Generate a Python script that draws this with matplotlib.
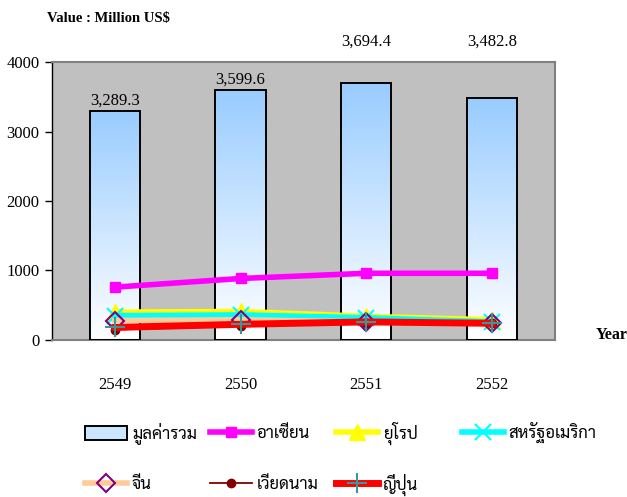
import numpy as np
import matplotlib
matplotlib.use("Agg")
import matplotlib.pyplot as plt
from matplotlib.lines import Line2D
from matplotlib.patches import Patch

years = ["2549", "2550", "2551", "2552"]
total = [3289.3, 3599.6, 3694.4, 3482.8]
total_lbl = ["3,289.3", "3,599.6", "3,694.4", "3,482.8"]
asean = [760, 885, 960, 960]
europe = [400, 410, 340, 290]
usa = [350, 360, 320, 260]
china = [280, 290, 260, 245]
vietnam = [150, 200, 240, 240]
japan = [180, 225, 260, 240]

names = ["มูลค่ารวม", "อาเซียน", "ยุโรป", "สหรัฐอเมริกา", "จีน", "เวียดนาม", "ญี่ปุ่น"]

serif = ["Liberation Serif", "DejaVu Serif"]
thai_font = ["Sarabun", "DejaVu Sans"]

fig = plt.figure(figsize=(6.27, 4.97), dpi=100)
ax = fig.add_axes([0.083, 0.316, 0.802, 0.559])
ax.set_facecolor("#C0C0C0")

x = np.arange(len(years))
bars = ax.bar(x, total, width=0.4, facecolor="none", edgecolor="black", lw=1.4, zorder=3)

# gradient fill: light blue at top, white at bottom
grad = np.linspace(1, 0, 256).reshape(-1, 1)
cmap = matplotlib.colors.LinearSegmentedColormap.from_list("bl", ["#FFFFFF", "#99CCFF"])
for b in bars:
    x0, w, h = b.get_x(), b.get_width(), b.get_height()
    ax.imshow(grad, extent=[x0, x0 + w, 0, h], aspect="auto", cmap=cmap,
              vmin=0, vmax=1, zorder=2)

ax.plot(x, asean, color="#FF00FF", lw=4, marker="s", ms=7, zorder=4)
ax.plot(x, europe, color="#FFFF00", lw=4, marker="^", ms=11, zorder=5)
ax.plot(x, usa, color="#00FFFF", lw=4, marker="x", ms=12, mew=1.5, zorder=6)
ax.plot(x, china, color="#FFCC99", lw=4, marker="D", ms=9, mfc="none",
        mec="#800080", mew=1.5, zorder=7)
ax.plot(x, vietnam, color="#800000", lw=1.3, marker="o", ms=6, zorder=8)
ax.plot(x, japan, color="#FF0000", lw=5, marker="+", ms=14, mec="#339999",
        mew=1.5, zorder=9)

# value labels (last two sit above the plot)
lbl_y = [total[0] + 150, total[1] + 150, 4290, 4290]
for i in range(len(years)):
    ax.text(x[i], lbl_y[i], total_lbl[i], ha="center", va="center", fontsize=12,
            family=serif, clip_on=False, zorder=10)

ax.set_xlim(-0.5, 3.5)
ax.set_ylim(0, 4000)
ax.set_yticks([0, 1000, 2000, 3000, 4000])
ax.set_xticks(x)
ax.set_xticklabels(years, family=serif, fontsize=12)
ax.tick_params(axis="x", length=0, pad=27)
ax.tick_params(axis="y", length=5, width=1, direction="out", pad=4)
for t in ax.get_yticklabels():
    t.set_family(serif)
    t.set_fontsize(12)

for s in ["top", "right", "bottom"]:
    ax.spines[s].set_color("#808080")
    ax.spines[s].set_linewidth(1.5)
ax.spines["left"].set_color("black")
ax.spines["left"].set_linewidth(1)

fig.text(0.075, 0.963, "Value : Million US$", fontsize=10.5, weight="bold",
         family=serif, va="center")
fig.text(0.950, 0.325, "Year", fontsize=11.5, weight="bold", family=serif, va="center")

h_bar = Patch(facecolor="#CCE5FF", edgecolor="black", lw=1.4)
h_asean = Line2D([], [], color="#FF00FF", lw=4, marker="s", ms=7)
h_eu = Line2D([], [], color="#FFFF00", lw=4, marker="^", ms=11)
h_us = Line2D([], [], color="#00FFFF", lw=4, marker="x", ms=12, mew=1.5)
h_cn = Line2D([], [], color="#FFCC99", lw=4, marker="D", ms=9, mfc="none",
              mec="#800080", mew=1.5)
h_vn = Line2D([], [], color="#800000", lw=1.3, marker="o", ms=6)
h_jp = Line2D([], [], color="#FF0000", lw=5, marker="+", ms=14, mec="#339999", mew=1.5)

handles = [h_bar, h_asean, h_eu, h_us, h_cn, h_vn, h_jp]
col_x = [0.136, 0.335, 0.536, 0.737]
row_y = [0.128, 0.025]
for i, (h, n) in enumerate(zip(handles, names)):
    lg = fig.legend([h], [n], loc="center left",
                    bbox_to_anchor=(col_x[i % 4], row_y[i // 4]),
                    frameon=False, prop={"family": thai_font, "size": 12},
                    handlelength=2.5, handleheight=0.9, handletextpad=0.3,
                    borderpad=0, borderaxespad=0)

fig.savefig("out.png", dpi=100)
